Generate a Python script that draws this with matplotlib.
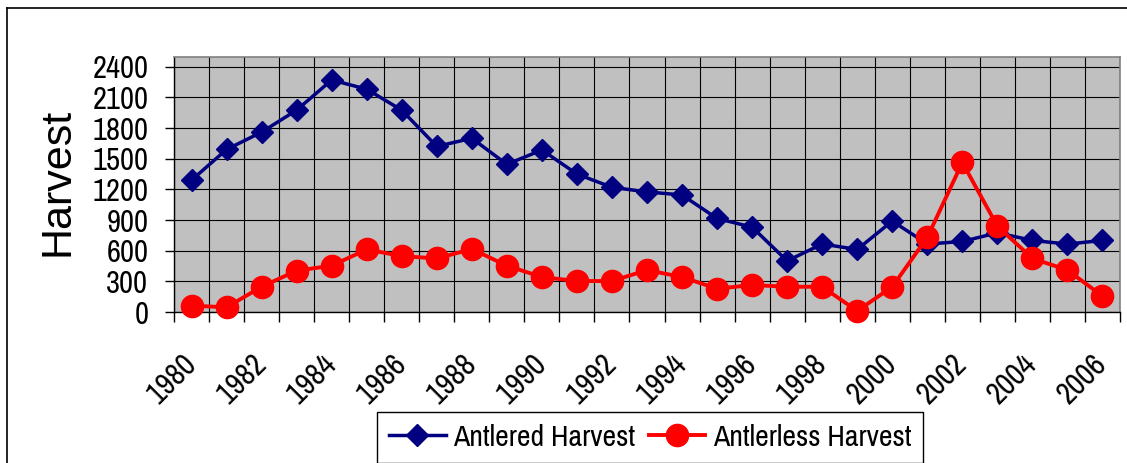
import matplotlib
matplotlib.use('Agg')
import matplotlib.pyplot as plt
import matplotlib.transforms as mtransforms
from matplotlib import font_manager
from matplotlib.lines import Line2D
import numpy as np

plt.rcParams['font.family'] = ['Liberation Sans', 'DejaVu Sans']

years = list(range(1980, 2007))
antlered = [1290, 1590, 1760, 1975, 2270, 2180, 1975, 1620, 1700, 1445,
            1585, 1350, 1220, 1175, 1145, 915, 830, 500, 665, 612,
            890, 665, 690, 775, 700, 665, 700]
antlerless = [62, 46, 247, 404, 453, 612, 547, 524, 616, 453,
              342, 303, 303, 410, 342, 228, 264, 247, 247, 10,
              247, 730, 1463, 840, 524, 410, 156]
y_ticks = [0, 300, 600, 900, 1200, 1500, 1800, 2100, 2400]
x_labels = [str(y) for y in years[::2]]

# Narrow font if available (reference text is Arial-Narrow like)
narrow_names = [f.name for f in font_manager.fontManager.ttflist
                if 'narrow' in f.name.lower() or 'condensed' in f.name.lower()]
if narrow_names:
    NARROW = [narrow_names[0], 'Liberation Sans', 'DejaVu Sans']
    TICK_FS = 22
    LEG_FS = 21.5
else:
    NARROW = ['Liberation Sans', 'DejaVu Sans']
    TICK_FS = 18
    LEG_FS = 17.5

W, H = 1127, 463
fig = plt.figure(figsize=(W / 100, H / 100), dpi=100)
ax = fig.add_axes([174 / W, 1 - 312 / H, 946 / W, 255 / H])
ax.set_facecolor('#C0C0C0')

x = np.arange(len(years))
ax.plot(x, antlered, color='#000080', lw=2.5, marker='D', ms=11,
        clip_on=False, zorder=3, label='Antlered Harvest')
ax.plot(x, antlerless, color='#FF0000', lw=2.8, marker='o', ms=16,
        clip_on=False, zorder=4, label='Antlerless Harvest')

ax.set_xlim(-0.5, len(years) - 0.5)
ax.set_ylim(0, 2495)
ax.set_yticks(y_ticks)
ax.set_yticklabels([str(v) for v in y_ticks], fontsize=TICK_FS, family=NARROW)
ax.set_xticks(x[::2])
ax.set_xticklabels(x_labels, rotation=45, ha='right', va='center',
                   rotation_mode='anchor', fontsize=TICK_FS, family=NARROW)
ax.set_xticks(np.arange(-0.5, len(years)), minor=True)
ax.tick_params(axis='x', which='major', length=0, pad=34)
ax.tick_params(axis='x', which='minor', length=7.2, width=1, direction='out', color='black')
ax.tick_params(axis='y', length=6.5, width=1, pad=12, color='black')
ax.grid(True, axis='y', which='major', color='black', lw=0.8)
ax.grid(True, axis='x', which='minor', color='black', lw=0.8)
ax.set_axisbelow(True)

for s in ['left', 'bottom']:
    ax.spines[s].set_color('black')
    ax.spines[s].set_linewidth(1)
for s in ['top', 'right']:
    ax.spines[s].set_color('#808080')
    ax.spines[s].set_linewidth(1.2)

offset = mtransforms.ScaledTranslation(0 / 100, 0, fig.dpi_scale_trans)
for lab in ax.get_xticklabels():
    lab.set_transform(lab.get_transform() + offset)

fig.text(57 / W, 1 - 182 / H, 'Harvest', rotation=90, ha='center',
         va='center', fontsize=31)

fig.add_artist(Line2D([7 / W, 7 / W], [0, 1 - 8 / H], transform=fig.transFigure,
                      color='black', lw=1.2))
fig.add_artist(Line2D([7 / W, 1], [1 - 8 / H, 1 - 8 / H], transform=fig.transFigure,
                      color='black', lw=1.2))

leg = fig.legend(loc='upper left', bbox_to_anchor=(377 / W, 1 - 412 / H), ncol=2,
                 prop={'family': NARROW, 'size': LEG_FS},
                 frameon=True, fancybox=False, edgecolor='black',
                 framealpha=1, borderaxespad=0, handlelength=1.9,
                 handletextpad=0.25, columnspacing=0.45, borderpad=0.4)
leg.get_frame().set_linewidth(1)

fig.savefig('out.png', dpi=100)
